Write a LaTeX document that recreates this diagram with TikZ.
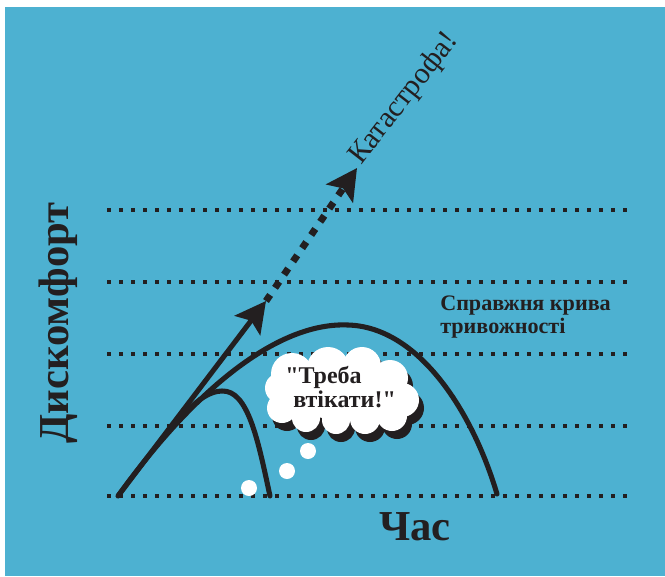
\documentclass[tikz,border=0pt]{standalone}
\usepackage{fontspec}
\setmainfont{Liberation Serif}
\newfontfamily\qfont{Liberation Serif}[Ligatures=TeXOff]
\usetikzlibrary{arrows.meta}
\definecolor{bgblue}{HTML}{4DB1D1}
\definecolor{ink}{HTML}{231F20}
\tikzset{bigtip/.tip={Stealth[length=23pt, width=24pt, inset=4.5pt]}}
\newcommand\qq{{\qfont\bfseries"}}
\newcommand\cloudbumps{%
  \foreach \cx/\cy/\r in {292/374/21, 328/368/21, 362/366/19, 390/378/18,
      402/400/17, 392/416/15, 365/419/15, 336/420/14, 306/418/14,
      282/408/15, 280/388/15}
    {\fill (\cx,\cy) circle[radius=\r];}
  \fill (340,394) ellipse[x radius=60, y radius=25];}
\begin{document}
\begin{tikzpicture}[x=0.75pt,y=-0.75pt,
  gridline/.style={ink, line width=3.2pt, dash pattern=on 3.2pt off 5.8pt},
  curveline/.style={ink, line width=3.8pt, line cap=round},
  dotline/.style={ink, line width=5.2pt, dash pattern=on 5.5pt off 6.5pt},
  lbl/.style={text=ink, inner sep=0pt}]
\useasboundingbox (0,0) rectangle (665,576);
\fill[white] (0,0) rectangle (665,576);
\fill[bgblue] (5,7) rectangle (665,576);
% dotted grid lines
\foreach \yy in {210,282,354,426,496}
  \draw[gridline] (107,\yy) -- (630,\yy);
% key points
\coordinate (start) at (118,496);
\coordinate (tipA) at (266,301);
\coordinate (tipB) at (357,168);
\coordinate (peak) at (348,325);
\coordinate (endR) at (497,494);
\coordinate (innerB) at (270,496);
\coordinate (innerTop) at (222,391);
\coordinate (merge) at (188,410);
% main curve
\draw[curveline] (start) .. controls (200,382) and (282,322) .. (peak)
   .. controls (418,327) and (472,410) .. (endR);
% inner curve
\draw[curveline] (innerB) .. controls (258,440) and (248,390) .. (innerTop)
   .. controls (210,391) and (198,400) .. (merge);
% arrows
\draw[curveline, line cap=butt, -{bigtip}] (start) -- (tipA);
\draw[dotline, -{bigtip}] (tipA) -- (tipB);
% cloud shadow and cloud
\begin{scope}[shift={(5,8)}, ink]
  \cloudbumps
\end{scope}
\begin{scope}[white]
  \cloudbumps
\end{scope}
% thought bubbles
\fill[white] (308,451) circle[radius=8];
\fill[white] (287,471) circle[radius=8];
\fill[white] (249,488) circle[radius=8];
% texts
\node[lbl, anchor=base west, font=\fontsize{18}{20}\selectfont\bfseries] (t1) at (285,383) {\qq Треба};
\node[lbl, anchor=base west, font=\fontsize{18}{20}\selectfont\bfseries] (t2) at (293,407) {втікати!\qq};
\node[lbl, anchor=base west, font=\fontsize{16.6}{18}\selectfont\bfseries] (s1) at (440,310) {Справжня крива};
\node[lbl, anchor=base west, font=\fontsize{16.6}{18}\selectfont\bfseries] (s2) at (440,333) {тривожності};
\node[lbl, anchor=base west, rotate=52, font=\fontsize{22.5}{24}\selectfont] (kat) at (361,166) {Катастрофа!};
\node[lbl, anchor=base, rotate=90, font=\fontsize{32}{36}\selectfont\bfseries] (dys) at (68,323) {Дискомфорт};
\node[lbl, anchor=base, font=\fontsize{32}{36}\selectfont\bfseries] (chas) at (415,540) {Час};
\end{tikzpicture}
\end{document}
